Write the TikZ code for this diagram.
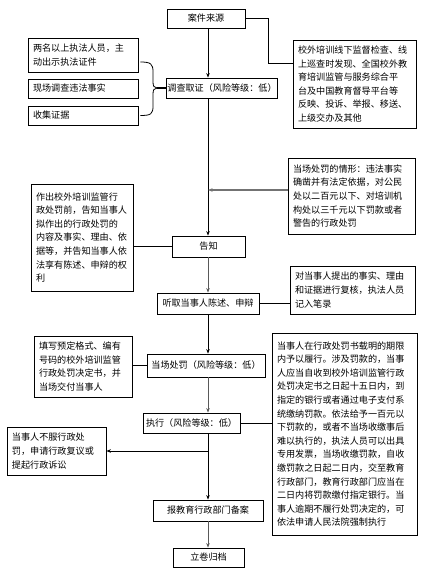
\documentclass[tikz,border=0pt]{standalone}
\usepackage{fontspec}
\setmainfont{Noto Sans CJK SC}
\usetikzlibrary{arrows.meta,calc}
\newcommand{\boxfont}{\fontsize{9.1}{13.6}\selectfont}
\tikzset{
  mbox/.style={rectangle, draw=black, line width=0.8pt, align=center,
               inner xsep=1pt, inner ysep=2pt, font=\boxfont},
  nbox/.style={rectangle, draw=black, line width=0.8pt, align=left,
               inner xsep=5pt, inner ysep=3pt, font=\boxfont},
  arr/.style={-{Stealth[length=4.5pt,width=3.5pt]}, line width=0.8pt},
  ln/.style={line width=0.8pt},
}

\begin{document}
\begin{tikzpicture}[x=1pt,y=-1pt]
  \useasboundingbox (0,0) rectangle (426,578);
  % main flow
  \node[mbox, minimum width=78, minimum height=19] (src)  at (206,18.5)  {案件来源};
  \node[mbox, minimum width=110, minimum height=20] (inv) at (222,88)    {调查取证（风险等级：低）};
  \node[mbox, minimum width=73, minimum height=21] (ntf)  at (208.5,246.5) {告知};
  \node[mbox, minimum width=102, minimum height=21] (hear) at (208,303.5) {听取当事人陈述、申辩};
  \node[mbox, minimum width=118, minimum height=23] (spot) at (206,365.5) {当场处罚（风险等级：低）};
  \node[mbox, minimum width=97, minimum height=20] (exe)  at (191.5,423)  {执行（风险等级：低）};
  \node[mbox, minimum width=110, minimum height=21] (rec) at (208,510.5)  {报教育行政部门备案};
  \node[mbox, minimum width=71, minimum height=19] (arch)  at (208.5,557.5) {立卷归档};
  % side notes
  \node[nbox, text width=100, minimum width=110, minimum height=34] (n1) at (83,55)
    {两名以上执法人员，主\\动出示执法证件};
  \node[nbox, text width=100, minimum width=110, minimum height=19] (n2) at (83,88.5)
    {现场调查违法事实};
  \node[nbox, text width=100, minimum width=110, minimum height=19] (n3) at (83,115.5)
    {收集证据};
  \node[nbox, text width=113, minimum width=123, minimum height=88] (sn) at (354.5,84)
    {校外培训线下监督检查、线\\上巡查时发现、全国校外教\\育培训监管与服务综合平\\台及中国教育督导平台等\\反映、投诉、举报、移送、\\上级交办及其他};
  \node[nbox, text width=117, minimum width=127, minimum height=76] (cs) at (351.5,196)
    {当场处罚的情形：违法事实\\确凿并有法定依据，对公民\\处以二百元以下、对培训机\\构处以三千元以下罚款或者\\警告的行政处罚};
  \node[nbox, text width=92, minimum width=102, minimum height=107] (pn) at (82,237.5)
    {作出校外培训监管行\\政处罚前，告知当事人\\拟作出的行政处罚的\\内容及事实、理由、依\\据等，并告知当事人依\\法享有陈述、申辩的权\\利};
  \node[nbox, text width=115, minimum width=125, minimum height=48] (rn) at (352.5,290)
    {对当事人提出的事实、理由\\和证据进行复核，执法人员\\记入笔录};
  \node[nbox, text width=88, minimum width=98, minimum height=61] (fn) at (83,366.5)
    {填写预定格式、编有\\号码的校外培训监管\\行政处罚决定书，并\\当场交付当事人};
  \node[nbox, text width=135, minimum width=145, minimum height=202] (bn) at (344.5,434)
    {当事人在行政处罚书载明的期限\\内予以履行。涉及罚款的，当事\\人应当自收到校外培训监管行政\\处罚决定书之日起十五日内，到\\指定的银行或者通过电子支付系\\统缴纳罚款。依法给予一百元以\\下罚款的，或者不当场收缴事后\\难以执行的，执法人员可以出具\\专用发票，当场收缴罚款，自收\\缴罚款之日起二日内，交至教育\\行政部门，教育行政部门应当在\\二日内将罚款缴付指定银行。当\\事人逾期不履行处罚决定的，可\\依法申请人民法院强制执行};
  \node[nbox, text width=89, minimum width=99, minimum height=48] (an) at (56.5,451)
    {当事人不服行政处\\罚，申请行政复议或\\提起行政诉讼};
  % brace joining the three checks
  \coordinate (axis) at (208,0);
  \draw[ln] ([shift={(2,7)}]n1.east) .. controls (151,62) and (153,64) .. (153,72)
    -- (153,82) .. controls (153,86) and (154,88) .. (157,88);
  \draw[ln] (157,88) .. controls (154,88) and (153,90) .. (153,94)
    -- (153,106) .. controls (153,114) and (151,115.5) .. ([xshift=2]n3.east);
  \draw[line width=1.4pt] (157,88) -- (inv.west);
  % connectors
  \draw[arr] (src.south -| axis) -- (inv.north -| axis);
  \draw[ln] (src.east) -- ++(23,0) |- ([yshift=21pt]sn.west);
  \draw[arr] (inv.south -| axis) -- (ntf.north -| axis);
  \draw[arr, draw=black!55, line width=1.1pt] ([yshift=6pt]cs.west) -- ([yshift=6pt]cs.west -| axis);
  \draw[ln] (pn.east |- ntf.west) -- (ntf.west);
  \draw[arr, draw=black!65] (ntf.south -| axis) -- (hear.north -| axis);
  \draw[ln] (hear.east) -- (hear.east -| rn.west);
  \draw[arr] (hear.south -| axis) -- (spot.north -| axis);
  \draw[ln] (spot.west) -- (spot.west -| fn.east);
  \draw[arr, draw=black!65] (spot.south -| axis) -- (exe.north -| axis);
  \draw[ln] (exe.east) -- (exe.east -| bn.west);
  \draw[arr] (exe.south -| axis) -- (rec.north -| axis);
  \draw[arr] (axis |- an.east) -- (an.east);
  \draw[arr, draw=black!65] (rec.south -| axis) -- (arch.north -| axis);
\end{tikzpicture}
\end{document}
